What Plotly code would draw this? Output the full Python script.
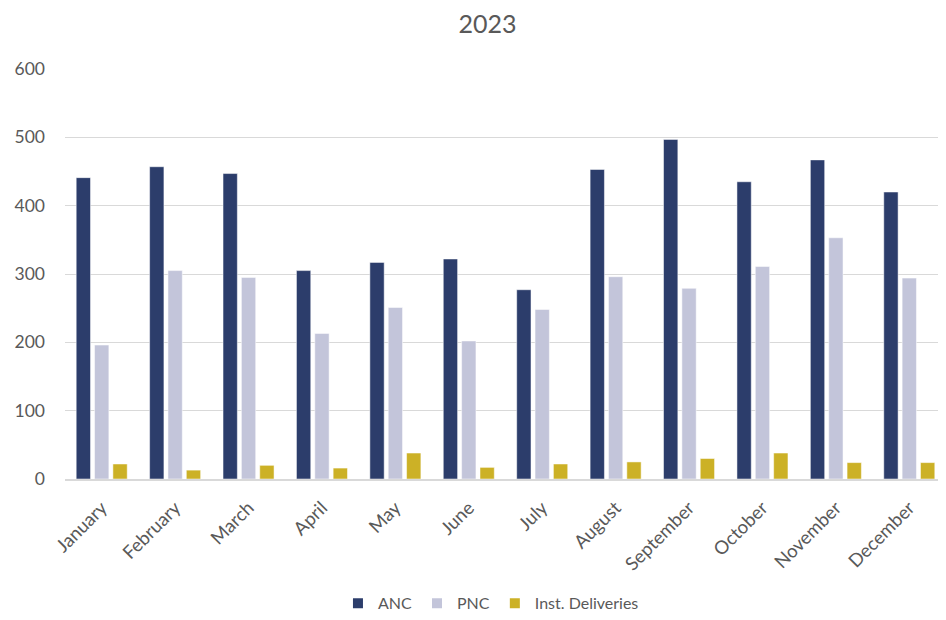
import plotly.graph_objects as go

months = ["January", "February", "March", "April", "May", "June", "July",
          "August", "September", "October", "November", "December"]
anc = [441, 457, 447, 305, 317, 322, 277, 453, 497, 435, 467, 420]
pnc = [196, 305, 295, 213, 251, 202, 248, 296, 279, 311, 353, 294]
inst = [22, 13, 20, 16, 38, 17, 22, 25, 30, 38, 24, 24]

font_family = "Lato, Liberation Sans, sans-serif"
fig = go.Figure()
for name, vals, col in [("ANC", anc, "#2C3D6B"), ("PNC", pnc, "#C3C5DA"),
                        ("Inst. Deliveries", inst, "#CCB126")]:
    fig.add_trace(go.Bar(x=months, y=vals, name=name,
                         marker=dict(color=col, line=dict(color="white", width=0.5))))

fig.update_layout(
    width=946, height=620,
    barmode="group", bargap=0.25, bargroupgap=0.22,
    paper_bgcolor="white", plot_bgcolor="white",
    margin=dict(l=57, r=8, t=61, b=149),
    title=dict(text="2023", x=0.507, xanchor="center", y=0.974, yanchor="middle",
               font=dict(family=font_family, size=25, color="#595959")),
    font=dict(family=font_family, color="#595959"),
    legend=dict(orientation="h", x=0.4835, xanchor="center", y=-0.303, yanchor="middle",
                font=dict(size=16, color="#595959"), traceorder="normal",
                itemwidth=30, itemsizing="constant"),
    xaxis=dict(tickangle=-45, tickfont=dict(size=18.5, color="#595959"), showgrid=False,
               showline=True, linecolor="#D9D9D9", linewidth=1.5, ticks="",
               ticklabelstandoff=9),
    yaxis=dict(range=[0, 600], dtick=100, tickfont=dict(size=17.5, color="#595959"),
               gridcolor="#D9D9D9", gridwidth=1, zeroline=False, showline=False, ticks="",
               ticklabelstandoff=19),
)
fig.write_html("out.html")
